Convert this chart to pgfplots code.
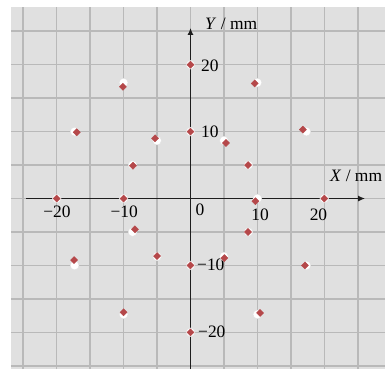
\documentclass[border=0pt]{standalone}
\usepackage{pgfplots}
\pgfplotsset{compat=1.18}
\usepackage{fontspec}
\setmainfont{Liberation Serif}
\usetikzlibrary{arrows.meta}

\definecolor{paper}{HTML}{E0E0E0}
\definecolor{gridc}{HTML}{B9B9B9}
\definecolor{dotred}{HTML}{B5484A}
\definecolor{axisc}{HTML}{1E1E1E}

% nominal positions (two rings, r = 10 mm and r = 20 mm, every 30 degrees)
\pgfplotstableread{
x y
10 0
8.66 5
5 8.66
0 10
-5 8.66
-8.66 5
-10 0
-8.66 -5
-5 -8.66
0 -10
5 -8.66
8.66 -5
20 0
17.32 10
10 17.32
0 20
-10 17.32
-17.32 10
-20 0
-17.32 -10
-10 -17.32
0 -20
10 -17.32
17.32 -10
}\nominal

% measured positions
\pgfplotstableread{
x y
0 20
0 10
-10.1 16.7
-17.0 9.9
-5.3 9.0
-8.6 4.9
9.6 17.2
16.8 10.3
5.3 8.3
8.6 5.0
-20 0
-10 0
-8.3 -4.6
-17.4 -9.2
-5.0 -8.6
0 -10
-10 -17.0
0 -20
9.7 -0.4
20 0
8.6 -5.0
5.05 -8.9
17.1 -10
10.4 -17.1
}\measured

\begin{document}
\begin{tikzpicture}
\begin{axis}[
  x=6.69bp, y=6.69bp,
  xmin=-26.83, xmax=29.07,
  ymin=-25.49, ymax=28.62,
  axis background/.style={fill=paper},
  axis line style={draw=none},
  xtick={-25,-20,...,25}, ytick={-25,-20,...,25},
  xticklabels={}, yticklabels={},
  major tick length=0pt,
  grid=major,
  major grid style={draw=gridc, line width=1.6bp},
  clip=false,
]
\coordinate (bl) at (axis cs:-28.47,-25.49);
\coordinate (tr) at (axis cs:29.07,29.67);

% coordinate axes
\draw[axisc, line width=1.4bp, -{Latex[length=7bp,width=6bp]}]
  (axis cs:-24.6,0) -- (axis cs:26.1,0);
\draw[axisc, line width=1.4bp, -{Latex[length=7bp,width=6bp]}]
  (axis cs:0,-25.49) -- (axis cs:0,25.5);

\addplot[only marks, mark=*, mark size=4.4bp,
  mark options={fill=white, draw=white!88!black, line width=0.4bp}]
  table[x=x, y=y] {\nominal};
\addplot[only marks, mark=square*, mark size=2.5bp,
  mark options={rotate=45, fill=dotred, draw=dotred}]
  table[x=x, y=y] {\measured};

\begin{scope}[every node/.style={font=\fontsize{17.5}{19}\selectfont, inner sep=0pt}]
\node at (axis cs:-19.95,-2.0) {−20};
\node at (axis cs:-9.9,-2.0) {−10};
\node at (axis cs:1.42,-1.72) {0};
\node at (axis cs:10.39,-2.47) {10};
\node at (axis cs:19.13,-2.47) {20};
\node[anchor=west] at (axis cs:1.57,19.8) {20};
\node[anchor=west] at (axis cs:1.57,9.9) {10};
\node[anchor=west] at (axis cs:0.97,-9.94) {−10};
\node[anchor=west] at (axis cs:1.12,-19.96) {−20};
\node[anchor=west] at (axis cs:2.17,26.1) {\textit{Y} / mm};
\node[anchor=west] at (axis cs:20.85,3.36) {\textit{X} / mm};
\end{scope}
\end{axis}
\pgfresetboundingbox
\path[use as bounding box] (bl) rectangle (tr);
\end{tikzpicture}
\end{document}
